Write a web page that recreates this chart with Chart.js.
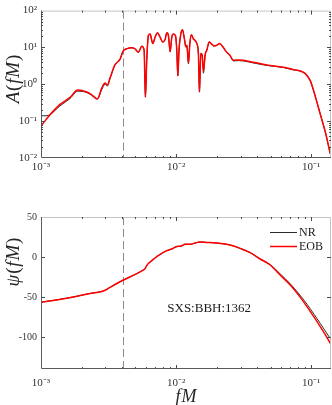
<!DOCTYPE html>
<html>
<head>
<meta charset="utf-8">
<script src="https://cdn.jsdelivr.net/npm/chart.js@4.4.1/dist/chart.umd.min.js"></script>
<style>
html, body { margin: 0; padding: 0; background: #fff; }
#wrap { position: relative; width: 332px; height: 405px; }
#ampChart { position: absolute; left: 0; top: 0; }
#phaseChart { position: absolute; left: 0; top: 200px; }
</style>
</head>
<body>
<div id="wrap">
<canvas id="ampChart" width="332" height="200"></canvas>
<canvas id="phaseChart" width="332" height="205"></canvas>
</div>
<script>
// ===== Data =====

const fAmp = [0.001, 0.001089, 0.001166, 0.001383, 0.00164, 0.001869, 0.002181, 0.002375, 0.002612, 0.002816,
  0.002978, 0.003098, 0.003244, 0.003532, 0.003847, 0.00405, 0.004335, 0.004696, 0.004968, 0.005256,
  0.005569, 0.005794, 0.005924, 0.006067, 0.006234, 0.006417, 0.00672, 0.006989, 0.007268, 0.00761,
  0.007969, 0.008287, 0.008531, 0.00877, 0.009028, 0.009292, 0.00955, 0.009881, 0.01012, 0.01029,
  0.01052, 0.01083, 0.01114, 0.01152, 0.0118, 0.012, 0.01233, 0.01263, 0.01298, 0.01343,
  0.01382, 0.01423, 0.01463, 0.01488, 0.01524, 0.01558, 0.01593, 0.0164, 0.01688, 0.01756,
  0.01817, 0.01912, 0.02002, 0.02093, 0.02218, 0.02347, 0.02482, 0.02657, 0.02893, 0.03152,
  0.03719, 0.04696, 0.06234, 0.07394, 0.08288, 0.09028, 0.09831, 0.1071, 0.1166, 0.127, 0.1383];

const ampNR = [0.14, 0.14, 0.15, 0.26, 0.41, 0.65, 0.6, 0.5, 0.4, 0.72,
  1.0, 0.9, 1.45, 3.4, 4.8, 8.0, 9.3, 9.8, 9.1, 7.4,
  10.8, 8.5, 0.45, 5.0, 21, 23, 12.7, 19, 25, 19,
  14, 16.5, 25, 21, 7.7, 19, 23, 21, 8, 1.7,
  9.3, 23, 30, 17, 10.4, 11.5, 3.6, 12.7, 22, 17,
  15.5, 12.7, 6.3, 0.62, 6.9, 6.3, 2.0, 6.3, 8.5, 14,
  12.7, 11, 11.5, 12.7, 10.4, 7.7, 6.3, 4.3, 4.4, 4.3,
  3.8, 3.25, 2.85, 2.45, 2.3, 1.95, 1.26, 0.47, 0.155, 0.051, 0.013];

const ampEOB = [0.074, 0.11, 0.15, 0.285, 0.44, 0.7, 0.62, 0.52, 0.4, 0.79,
  1.08, 0.95, 1.5, 3.4, 4.8, 8.0, 9.3, 9.8, 9.1, 7.4,
  10.8, 8.5, 0.45, 5.0, 21, 23, 12.7, 19, 25, 19,
  14, 16.5, 25, 21, 7.7, 19, 23, 21, 8, 1.7,
  9.3, 23, 30, 17, 10.4, 11.5, 3.8, 12.7, 22, 17,
  15.5, 12.7, 6.3, 0.62, 6.9, 6.3, 2.3, 6.3, 8.5, 14,
  12.7, 11, 11.5, 12.7, 10.4, 7.7, 6.3, 4.5, 4.6, 4.5,
  3.95, 3.36, 2.9, 2.5, 2.3, 1.95, 1.26, 0.47, 0.155, 0.051, 0.013];

const fPhase = [0.001, 0.00155, 0.002307, 0.002893, 0.003068, 0.003244, 0.004071, 0.005116, 0.005412, 0.005695,
  0.005894, 0.006067, 0.006607, 0.007194, 0.007835, 0.008531, 0.009292, 0.01012, 0.01089, 0.01166,
  0.0127, 0.01382, 0.01506, 0.01688, 0.01889, 0.02118, 0.02512, 0.02979, 0.03532, 0.04188,
  0.04966, 0.05888, 0.0699, 0.08012, 0.09292, 0.1053, 0.1166, 0.127, 0.1383];

const phaseNR = [-56.5, -51.5, -45.6, -42.5, -40.4, -37.9, -28.8, -20.8, -18.6, -16.5,
  -14.5, -10.5, -4.5, 0.5, 4.5, 7.9, 10, 13, 13.6, 16,
  15.8, 17.5, 18.8, 18.2, 17.8, 17, 15, 10.8, 5.4, -2.2,
  -9.5, -21, -33.5, -45, -59, -72, -83, -92.5, -102];

const phaseEOB = [-56.5, -51.5, -45.6, -42.5, -40.4, -37.9, -28.8, -20.8, -18.6, -16.5,
  -14.5, -10.5, -4.5, 0.5, 4.5, 7.9, 10, 13, 13.6, 16,
  15.8, 17.5, 18.8, 18.2, 17.8, 17, 15, 10.8, 5.4, -2.5,
  -10, -22.5, -35, -47, -62, -75.5, -87, -97, -108];

const markF = 0.00405;

const xTickValues = [0.001, 0.01, 0.1];
const xTickLabels = ['10⁻³', '10⁻²', '10⁻¹'];
const ampTickValues = [0.01, 0.1, 1, 10, 100];
const ampTickLabels = ['10⁻²', '10⁻¹', '10⁰', '10¹', '10²'];
const phaseTickValues = [-100, -50, 0, 50];
const phaseTickLabels = ['-100', '-50', '0', '50'];


// ===== Helpers =====

const SERIF = '"Liberation Serif", "Times New Roman", serif';

function logTicks(min, max) {
  const out = [];
  for (let e = Math.floor(Math.log10(min)); e <= Math.ceil(Math.log10(max)); e++) {
    for (let m = 1; m <= 9; m++) {
      const v = Number((m * Math.pow(10, e)).toPrecision(6));
      if (v >= min * 0.9999 && v <= max * 1.0001) out.push(v);
    }
  }
  return out;
}

function findIdx(values, v) {
  return values.findIndex(t => Math.abs(t - v) <= Math.abs(t) * 1e-6 + 1e-12);
}

function labelFor(values, labels) {
  return v => {
    const i = findIdx(values, v);
    return i < 0 ? '' : labels[i];
  };
}

function points(xs, ys) {
  return xs.map((x, i) => ({ x: x, y: ys[i] }));
}

function drawParts(ctx, parts, x, y, size, vertical) {
  ctx.save();
  ctx.translate(x, y);
  if (vertical) ctx.rotate(-Math.PI / 2);
  const fonts = parts.map(p => (p[1] ? 'italic ' : '') + size + 'px ' + SERIF);
  const gap = 0.8;
  let w = 0;
  parts.forEach((p, i) => { ctx.font = fonts[i]; w += ctx.measureText(p[0]).width + (i ? gap : 0); });
  let cx = -w / 2;
  ctx.textBaseline = 'middle';
  ctx.textAlign = 'left';
  ctx.fillStyle = '#262626';
  parts.forEach((p, i) => {
    ctx.font = fonts[i];
    ctx.fillText(p[0], cx, 0);
    cx += ctx.measureText(p[0]).width + gap;
  });
  ctx.restore();
}

// frame, inward ticks, dashed marker, labels
function makeDecor(cfg) {
  return {
    id: 'decor',
    beforeDatasetsDraw(chart) {
      const { ctx, chartArea: a, scales } = chart;
      const x = Math.round(scales.x.getPixelForValue(markF)) + 0.5;
      ctx.save();
      ctx.strokeStyle = '#8a8a8a';
      ctx.lineWidth = 1;
      ctx.setLineDash([8, 4]);
      ctx.beginPath();
      ctx.moveTo(x, a.top);
      ctx.lineTo(x, a.bottom);
      ctx.stroke();
      ctx.restore();
    },
    afterDraw(chart) {
      const { ctx, chartArea: a, scales } = chart;
      ctx.save();

      // box
      ctx.lineWidth = 1;
      ctx.strokeStyle = '#c4c4c4';
      ctx.beginPath();
      ctx.moveTo(a.left, a.top + 0.5);
      ctx.lineTo(a.right - 0.5, a.top + 0.5);
      ctx.lineTo(a.right - 0.5, a.bottom);
      ctx.stroke();
      ctx.strokeStyle = '#5a5a5a';
      ctx.beginPath();
      ctx.moveTo(a.left + 0.5, a.top);
      ctx.lineTo(a.left + 0.5, a.bottom - 0.5);
      ctx.lineTo(a.right, a.bottom - 0.5);
      ctx.stroke();

      // ticks
      ctx.strokeStyle = '#4a4a4a';
      ctx.beginPath();
      scales.x.ticks.forEach(t => {
        const p = Math.round(scales.x.getPixelForValue(t.value)) + 0.5;
        if (p < a.left + 1 || p > a.right - 1) return;
        const len = findIdx(xTickValues, t.value) >= 0 ? 4 : 2;
        ctx.moveTo(p, a.bottom);
        ctx.lineTo(p, a.bottom - len);
        ctx.moveTo(p, a.top);
        ctx.lineTo(p, a.top + len);
      });
      scales.y.ticks.forEach(t => {
        const p = Math.round(scales.y.getPixelForValue(t.value)) + 0.5;
        if (p < a.top + 1 || p > a.bottom - 1) return;
        const len = findIdx(cfg.yMajor, t.value) >= 0 ? 4 : 2;
        ctx.moveTo(a.left, p);
        ctx.lineTo(a.left + len, p);
        ctx.moveTo(a.right, p);
        ctx.lineTo(a.right - len, p);
      });
      ctx.stroke();

      // axis titles
      drawParts(ctx, cfg.yTitle, cfg.yTitleAt[0], cfg.yTitleAt[1], 19, true);
      if (cfg.xTitle) drawParts(ctx, cfg.xTitle, cfg.xTitleAt[0], cfg.xTitleAt[1], 18, false);

      // legend + run name
      if (cfg.legend) {
        ctx.font = '12px ' + SERIF;
        ctx.textBaseline = 'middle';
        ctx.textAlign = 'left';
        cfg.legend.forEach((item, i) => {
          const y = a.top + 15.5 + i * 14;
          ctx.strokeStyle = item.color;
          ctx.lineWidth = item.width;
          ctx.beginPath();
          ctx.moveTo(a.right - 61, y);
          ctx.lineTo(a.right - 34, y);
          ctx.stroke();
          ctx.fillStyle = '#1a1a1a';
          ctx.fillText(item.label, a.right - 32, y);
        });
        ctx.font = '13px ' + SERIF;
        ctx.fillText(cfg.note.text, scales.x.getPixelForValue(cfg.note.x), scales.y.getPixelForValue(cfg.note.y));
      }
      ctx.restore();
    }
  };
}

function lineSet(label, data, color, width) {
  return {
    label: label,
    data: data,
    borderColor: color,
    borderWidth: width,
    pointRadius: 0,
    fill: false,
    cubicInterpolationMode: 'monotone'
  };
}

function xScale(padding, height) {
  return {
    type: 'logarithmic',
    min: 0.001,
    max: 0.14,
    bounds: 'data',
    grid: { display: false, drawTicks: false },
    border: { display: false },
    afterBuildTicks: s => { s.ticks = logTicks(0.001, 0.14).map(v => ({ value: v })); },
    afterFit: s => { s.height = height; },
    ticks: {
      autoSkip: false, maxRotation: 0, minRotation: 0, padding: padding,
      color: '#333', font: { family: SERIF, size: 11 },
      callback: labelFor(xTickValues, xTickLabels)
    }
  };
}


// ===== Amplitude =====

new Chart(document.getElementById('ampChart'), {
  type: 'line',
  data: {
    datasets: [
      lineSet('EOB', points(fAmp, ampEOB), '#ff0000', 1.5),
      lineSet('NR', points(fAmp, ampNR), '#2b2b2b', 1)
    ]
  },
  options: {
    responsive: false,
    animation: false,
    layout: { padding: { left: 0, right: 1, top: 6, bottom: 0 } },
    plugins: { legend: { display: false }, tooltip: { enabled: false } },
    scales: {
      x: xScale(3, 42),
      y: {
        type: 'logarithmic',
        min: 0.01,
        max: 100,
        bounds: 'data',
        grid: { display: false, drawTicks: false },
        border: { display: false },
        afterBuildTicks: s => { s.ticks = logTicks(0.01, 100).map(v => ({ value: v })); },
        afterFit: s => { s.width = 41; },
        ticks: {
          autoSkip: false, padding: 4,
          color: '#333', font: { family: SERIF, size: 11 },
          callback: labelFor(ampTickValues, ampTickLabels)
        }
      }
    }
  },
  plugins: [makeDecor({
    yMajor: ampTickValues,
    yTitle: [['A', true], ['(', false], ['f', true], ['M', true], [')', false]],
    yTitleAt: [14, 79]
  })]
});


// ===== Phase =====

new Chart(document.getElementById('phaseChart'), {
  type: 'line',
  data: {
    datasets: [
      lineSet('EOB', points(fPhase, phaseEOB), '#ff0000', 1.5),
      lineSet('NR', points(fPhase, phaseNR), '#2b2b2b', 1)
    ]
  },
  options: {
    responsive: false,
    animation: false,
    layout: { padding: { left: 0, right: 1, top: 17, bottom: 0 } },
    plugins: { legend: { display: false }, tooltip: { enabled: false } },
    scales: {
      x: xScale(8, 36),
      y: {
        type: 'linear',
        min: -140,
        max: 50,
        bounds: 'data',
        grid: { display: false, drawTicks: false },
        border: { display: false },
        afterBuildTicks: s => { s.ticks = phaseTickValues.map(v => ({ value: v })); },
        afterFit: s => { s.width = 41; },
        ticks: {
          autoSkip: false, padding: 4,
          color: '#333', font: { family: SERIF, size: 10 },
          callback: labelFor(phaseTickValues, phaseTickLabels)
        }
      }
    }
  },
  plugins: [makeDecor({
    yMajor: phaseTickValues,
    yTitle: [['ψ', true], ['(', false], ['f', true], ['M', true], [')', false]],
    yTitleAt: [14, 62],
    xTitle: [['f', true], ['M', true]],
    xTitleAt: [186, 197],
    legend: [
      { label: 'NR', color: '#2b2b2b', width: 1 },
      { label: 'EOB', color: '#ff0000', width: 1.5 }
    ],
    note: { text: 'SXS:BBH:1362', x: 0.0086, y: -65 }
  })]
});
</script>
</body>
</html>
